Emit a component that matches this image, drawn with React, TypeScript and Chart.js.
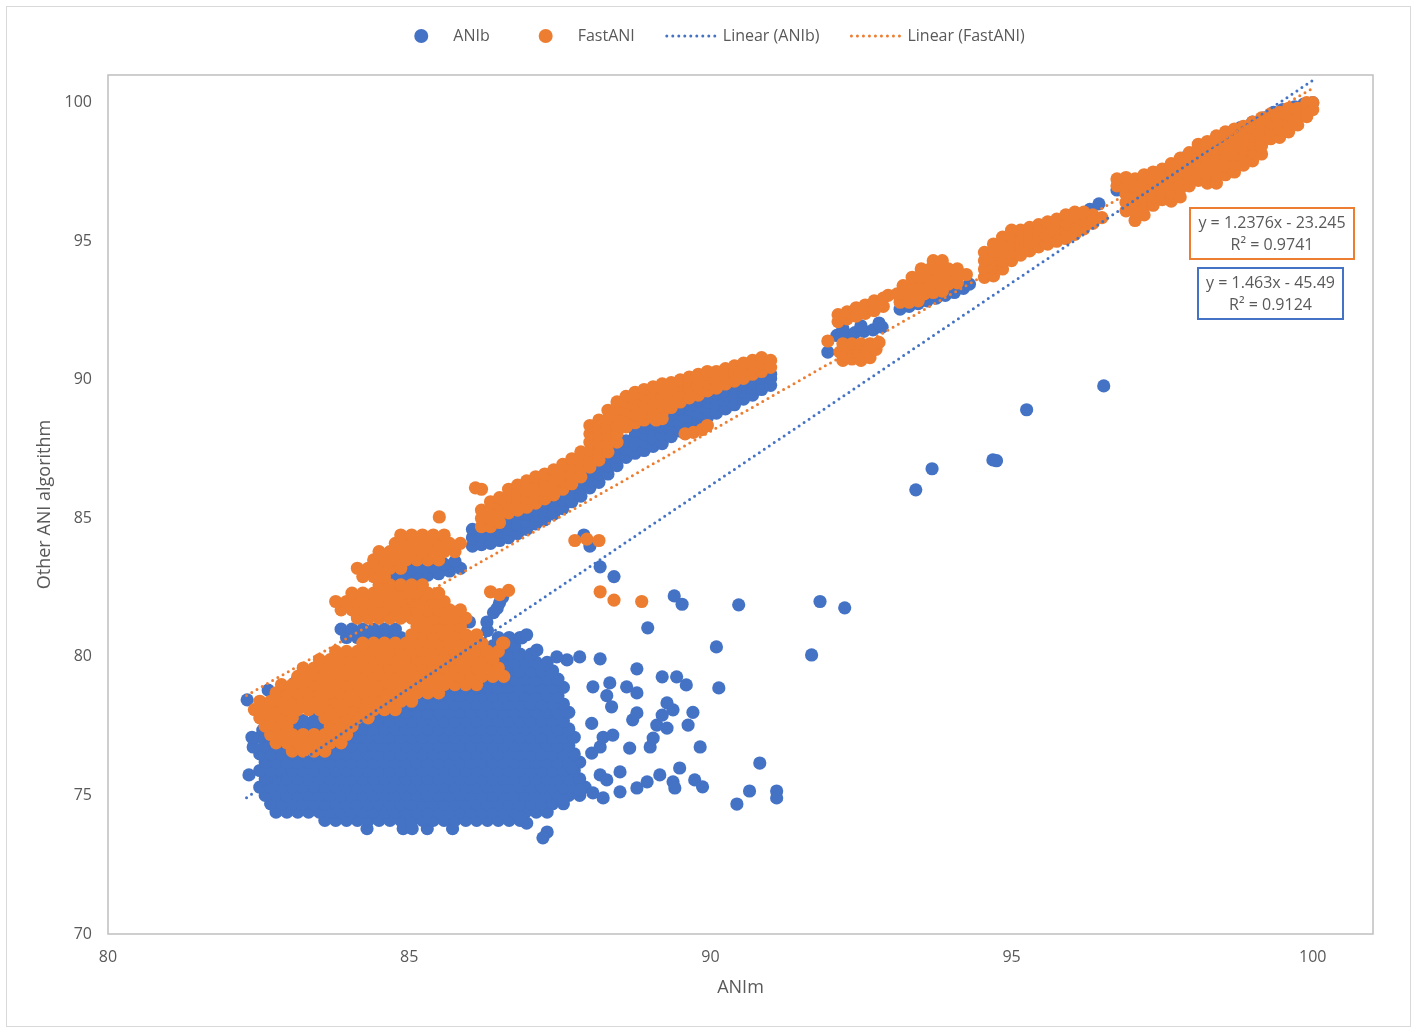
import React, { useEffect, useRef } from "react";
import { Chart, registerables } from "chart.js";

Chart.register(...registerables);
Chart.defaults.font.family = '"Open Sans", sans-serif';

const BLUE = "#4472C4";
const ORANGE = "#ED7D31";
const TEXT = "#595959";

type Row = [number, number[]];
type Pt = [number, number];

// ANIb: dense low cloud, rows of [y, x values]
const ANIB_CLOUD_ROWS: Row[] = [
  [73.8, [84.3, 84.9, 85.05, 85.3, 85.72]],
  [74.1, [83.6, 83.78, 83.96, 84.14, 84.32, 84.5, 84.68, 84.86, 85.04, 85.22, 85.4, 85.58, 85.76, 85.94, 86.12, 86.3, 86.48, 86.66, 86.84]],
  [74.4, [82.79, 82.97, 83.15, 83.33, 83.51, 83.69, 83.87, 84.05, 84.23, 84.41, 84.59, 84.77, 84.95, 85.13, 85.31, 85.49, 85.67, 85.85, 86.03, 86.21, 86.39, 86.57, 86.75, 86.93, 87.11, 87.29]],
  [74.7, [82.7, 82.88, 83.06, 83.24, 83.42, 83.6, 83.78, 83.96, 84.14, 84.32, 84.5, 84.68, 84.86, 85.04, 85.22, 85.4, 85.58, 85.76, 85.94, 86.12, 86.3, 86.48, 86.66, 86.84, 87.02, 87.2, 87.38, 87.56]],
  [75.0, [82.61, 82.79, 82.97, 83.15, 83.33, 83.51, 83.69, 83.87, 84.05, 84.23, 84.41, 84.59, 84.77, 84.95, 85.13, 85.31, 85.49, 85.67, 85.85, 86.03, 86.21, 86.39, 86.57, 86.75, 86.93, 87.11, 87.29, 87.47, 87.65, 87.83]],
  [75.3, [82.52, 82.7, 82.88, 83.06, 83.24, 83.42, 83.6, 83.78, 83.96, 84.14, 84.32, 84.5, 84.68, 84.86, 85.04, 85.22, 85.4, 85.58, 85.76, 85.94, 86.12, 86.3, 86.48, 86.66, 86.84, 87.02, 87.2, 87.38, 87.56, 87.74, 87.92]],
  [75.6, [82.61, 82.79, 82.97, 83.15, 83.33, 83.51, 83.69, 83.87, 84.05, 84.23, 84.41, 84.59, 84.77, 84.95, 85.13, 85.31, 85.49, 85.67, 85.85, 86.03, 86.21, 86.39, 86.57, 86.75, 86.93, 87.11, 87.29, 87.47, 87.65, 87.83]],
  [75.9, [82.52, 82.7, 82.88, 83.06, 83.24, 83.42, 83.6, 83.78, 83.96, 84.14, 84.32, 84.5, 84.68, 84.86, 85.04, 85.22, 85.4, 85.58, 85.76, 85.94, 86.12, 86.3, 86.48, 86.66, 86.84, 87.02, 87.2, 87.38, 87.56, 87.74]],
  [76.2, [82.61, 82.79, 82.97, 83.15, 83.33, 83.51, 83.69, 83.87, 84.05, 84.23, 84.41, 84.59, 84.77, 84.95, 85.13, 85.31, 85.49, 85.67, 85.85, 86.03, 86.21, 86.39, 86.57, 86.75, 86.93, 87.11, 87.29, 87.47, 87.65, 87.83]],
  [76.5, [82.52, 82.7, 82.88, 83.06, 83.24, 83.42, 83.6, 83.78, 83.96, 84.14, 84.32, 84.5, 84.68, 84.86, 85.04, 85.22, 85.4, 85.58, 85.76, 85.94, 86.12, 86.3, 86.48, 86.66, 86.84, 87.02, 87.2, 87.38, 87.56, 87.74]],
  [76.8, [82.61, 82.79, 82.97, 83.15, 83.33, 83.51, 83.69, 83.87, 84.05, 84.23, 84.41, 84.59, 84.77, 84.95, 85.13, 85.31, 85.49, 85.67, 85.85, 86.03, 86.21, 86.39, 86.57, 86.75, 86.93, 87.11, 87.29, 87.47, 87.65]],
  [77.1, [82.52, 82.7, 82.88, 83.06, 83.24, 83.42, 83.6, 83.78, 83.96, 84.14, 84.32, 84.5, 84.68, 84.86, 85.04, 85.22, 85.4, 85.58, 85.76, 85.94, 86.12, 86.3, 86.48, 86.66, 86.84, 87.02, 87.2, 87.38, 87.56, 87.74]],
  [77.4, [82.79, 82.97, 83.15, 83.33, 83.51, 83.69, 83.87, 84.05, 84.23, 84.41, 84.59, 84.77, 84.95, 85.13, 85.31, 85.49, 85.67, 85.85, 86.03, 86.21, 86.39, 86.57, 86.75, 86.93, 87.11, 87.29, 87.47, 87.65]],
  [77.7, [83.06, 83.24, 83.42, 83.6, 83.78, 83.96, 84.14, 84.32, 84.5, 84.68, 84.86, 85.04, 85.22, 85.4, 85.58, 85.76, 85.94, 86.12, 86.3, 86.48, 86.66, 86.84, 87.02, 87.2, 87.38, 87.56]],
  [78.0, [83.51, 83.69, 83.87, 84.05, 84.23, 84.41, 84.59, 84.77, 84.95, 85.13, 85.31, 85.49, 85.67, 85.85, 86.03, 86.21, 86.39, 86.57, 86.75, 86.93, 87.11, 87.29, 87.47, 87.65]],
  [78.3, [84.14, 84.32, 84.5, 84.68, 84.86, 85.04, 85.22, 85.4, 85.58, 85.76, 85.94, 86.12, 86.3, 86.48, 86.66, 86.84, 87.02, 87.2, 87.38, 87.56]],
  [78.6, [84.59, 84.77, 84.95, 85.13, 85.31, 85.49, 85.67, 85.85, 86.03, 86.21, 86.39, 86.57, 86.75, 86.93, 87.11, 87.29, 87.47]],
  [78.9, [85.04, 85.22, 85.4, 85.58, 85.76, 85.94, 86.12, 86.3, 86.48, 86.66, 86.84, 87.02, 87.2, 87.38, 87.56]],
  [79.2, [85.49, 85.67, 85.85, 86.03, 86.21, 86.39, 86.57, 86.75, 86.93, 87.11, 87.29, 87.47]],
  [79.5, [85.94, 86.12, 86.3, 86.48, 86.66, 86.84, 87.02, 87.2, 87.38]],
  [79.8, [86.21, 86.39, 86.57, 86.75, 86.93, 87.11, 87.29]],
  [80.1, [86.3, 86.48, 86.66, 86.84, 87.02]],
  [80.4, [86.39, 86.57, 86.75]],
  [80.7, [83.96, 84.14, 84.32, 84.5, 84.68, 84.86, 86.48, 86.66, 86.84]],
  [81.0, [83.87, 84.05, 84.23, 84.41, 84.59, 84.77]],
];

// ANIb: middle band, columns of [x, y values]
const ANIB_BAND_COLS: Row[] = [
  [86.05, [84.0, 84.3, 84.6]],
  [86.2, [84.05, 84.35]],
  [86.35, [84.1, 84.4]],
  [86.5, [84.2, 84.5]],
  [86.65, [84.3, 84.6, 84.85]],
  [86.8, [84.45, 84.75, 85.0]],
  [86.95, [84.6, 84.9, 85.15]],
  [87.1, [84.8, 85.1, 85.3]],
  [87.25, [84.95, 85.25, 85.45]],
  [87.4, [85.15, 85.45, 85.65]],
  [87.55, [85.35, 85.65, 85.85]],
  [87.7, [85.6, 85.9, 86.05]],
  [87.85, [85.8, 86.1, 86.3]],
  [88.0, [86.1, 86.4, 86.7]],
  [88.15, [86.3, 86.6, 86.9]],
  [88.3, [86.6, 86.9, 87.2]],
  [88.45, [86.9, 87.2, 87.5]],
  [88.6, [87.2, 87.5, 87.8]],
  [88.75, [87.35, 87.65, 87.95, 88.15]],
  [88.9, [87.45, 87.75, 88.05, 88.3]],
  [89.05, [87.6, 87.9, 88.2, 88.4]],
  [89.2, [87.7, 88.0, 88.3, 88.55]],
  [89.35, [87.95, 88.25, 88.55, 88.75]],
  [89.5, [88.15, 88.45, 88.75, 88.95]],
  [89.65, [88.35, 88.65, 88.95, 89.1]],
  [89.8, [88.5, 88.8, 89.05, 89.25]],
  [89.95, [88.65, 88.95, 89.2, 89.4]],
  [90.1, [88.8, 89.1, 89.3, 89.5]],
  [90.25, [88.95, 89.25, 89.45, 89.6]],
  [90.4, [89.1, 89.4, 89.6, 89.75]],
  [90.55, [89.3, 89.55, 89.75, 89.85]],
  [90.7, [89.45, 89.7, 89.9]],
  [90.85, [89.65, 89.9, 90.05]],
  [91.0, [89.8, 90.05, 90.2]],
];

// ANIb: upper bands near the diagonal
const ANIB_UPPER: Pt[] = [
  [91.95, 91.0], [92.1, 91.6], [92.25, 91.65], [92.4, 91.7], [92.55, 91.75], [92.7, 91.8], [92.85, 91.9],
  [92.2, 91.85], [92.5, 91.95], [92.8, 92.05],
  [93.15, 92.55], [93.3, 92.65], [93.45, 92.75], [93.6, 92.85], [93.75, 92.95], [93.9, 93.05], [94.05, 93.15],
  [94.2, 93.3], [94.3, 93.45],
  [94.7, 94.2], [94.9, 94.45], [95.1, 94.7], [95.3, 94.9], [95.5, 95.15], [95.7, 95.4], [95.9, 95.65],
  [96.1, 95.9], [96.3, 96.15], [96.45, 96.35],
  [96.75, 96.85], [96.9, 96.95], [97.1, 97.1], [97.3, 97.3], [97.5, 97.5], [97.7, 97.75], [97.85, 98.0],
  [98.0, 98.15], [98.2, 98.4], [98.4, 98.7], [98.6, 98.9], [98.8, 99.1], [99.0, 99.3], [99.2, 99.45],
  [99.35, 99.65], [99.5, 99.75], [99.7, 99.85], [99.85, 99.95], [100.0, 100.0],
];

// ANIb: loose points
const ANIB_SCATTER: Pt[] = [
  [82.31, 78.45], [82.66, 78.8], [83.1, 79.06], [82.34, 75.74], [82.41, 76.75], [82.39, 77.1], [82.57, 77.36],
  [87.29, 73.68], [87.22, 73.47], [86.95, 74.0], [86.84, 74.22],
  [87.55, 74.84], [87.83, 75.2], [88.05, 75.09], [88.22, 74.91], [88.5, 75.13], [88.17, 75.74], [88.28, 75.56],
  [87.7, 75.99], [88.5, 75.85], [88.03, 76.53], [88.17, 76.75], [88.66, 76.71], [89.0, 76.75], [89.83, 76.75],
  [88.22, 77.1], [88.38, 77.18], [89.05, 77.07], [88.03, 77.6], [88.71, 77.73], [88.78, 77.98], [89.11, 77.54],
  [89.28, 77.43], [89.63, 77.54], [89.2, 77.9], [89.71, 78.0], [89.38, 78.09], [89.28, 78.34], [88.36, 78.2],
  [88.28, 78.6], [88.78, 78.7], [88.61, 78.92], [88.05, 78.92], [88.33, 79.06], [89.6, 78.99], [90.14, 78.88],
  [89.2, 79.28], [89.44, 79.28], [88.78, 79.57], [88.17, 79.93], [87.62, 79.89], [87.45, 80.0], [87.83, 80.0],
  [87.12, 80.25], [86.87, 80.69], [86.95, 80.8], [90.1, 80.36], [88.96, 81.05], [91.68, 80.07],
  [88.78, 75.27], [88.95, 75.49], [89.16, 75.74], [89.38, 75.49], [89.41, 75.27], [89.74, 75.56], [89.87, 75.31],
  [89.49, 75.99], [90.82, 76.17], [90.65, 75.16], [90.44, 74.69], [91.1, 75.16], [91.1, 74.91],
  [89.4, 82.2], [89.53, 81.9], [90.47, 81.88], [91.82, 82.0], [92.23, 81.77],
  [88.17, 83.25], [88.4, 82.9], [87.9, 84.4], [88.0, 84.0],
  [86.0, 81.26], [86.3, 80.95], [86.29, 81.26], [86.4, 81.6], [86.46, 81.75], [86.5, 81.95], [86.55, 82.15],
  [84.77, 82.85], [84.95, 82.85], [85.13, 82.9], [85.31, 82.95], [85.49, 83.0], [85.67, 83.1], [85.85, 83.2],
  [85.04, 83.15], [85.22, 83.2], [85.4, 83.25], [85.58, 83.35], [85.76, 83.45],
  [93.41, 86.03], [93.68, 86.79], [94.69, 87.11], [94.75, 87.08], [95.25, 88.92], [96.53, 89.78],
];

// FastANI: lower bands, rows of [y, x values]
const FASTANI_LOW_ROWS: Row[] = [
  [76.6, [83.06, 83.24, 83.42, 83.6]],
  [76.9, [82.79, 82.97, 83.15, 83.33, 83.51, 83.69, 83.87]],
  [77.2, [82.7, 82.88, 83.06, 83.24, 83.42, 83.6, 83.78, 83.96]],
  [77.5, [82.61, 82.79, 82.97, 83.69, 83.87, 84.05]],
  [77.8, [82.52, 82.7, 82.88, 83.06, 83.6, 83.78, 83.96, 84.14, 84.32]],
  [78.1, [82.43, 82.61, 82.79, 82.97, 83.15, 83.33, 83.51, 83.69, 83.87, 84.05, 84.23, 84.41, 84.59, 84.77]],
  [78.4, [82.52, 82.7, 82.88, 83.06, 83.24, 83.42, 83.6, 83.78, 83.96, 84.14, 84.32, 84.5, 84.68, 84.86, 85.04]],
  [78.7, [82.79, 82.97, 83.15, 83.33, 83.51, 83.69, 83.87, 84.05, 84.23, 84.41, 84.59, 84.77, 84.95, 85.13, 85.31, 85.49]],
  [79.0, [82.88, 83.06, 83.24, 83.42, 83.6, 83.78, 83.96, 84.14, 84.32, 84.5, 84.68, 84.86, 85.04, 85.22, 85.4, 85.58, 85.76, 85.94, 86.12]],
  [79.3, [83.15, 83.33, 83.51, 83.69, 83.87, 84.05, 84.23, 84.41, 84.59, 84.77, 84.95, 85.13, 85.31, 85.49, 85.67, 85.85, 86.03, 86.21, 86.39, 86.57]],
  [79.6, [83.24, 83.42, 83.6, 83.78, 83.96, 84.14, 84.32, 84.5, 84.68, 84.86, 85.04, 85.22, 85.4, 85.58, 85.76, 85.94, 86.12, 86.3, 86.48]],
  [79.9, [83.51, 83.69, 83.87, 84.05, 84.23, 84.41, 84.59, 84.77, 84.95, 85.13, 85.31, 85.49, 85.67, 85.85, 86.03, 86.21, 86.39]],
  [80.2, [83.78, 83.96, 84.14, 84.32, 84.5, 84.68, 84.86, 85.04, 85.22, 85.4, 85.58, 85.76, 85.94, 86.12, 86.3, 86.48]],
  [80.5, [84.23, 84.41, 84.59, 84.77, 84.95, 85.13, 85.31, 85.49, 85.67, 85.85, 86.03, 86.21, 86.57]],
  [80.8, [85.04, 85.22, 85.4, 85.58, 85.76, 85.94, 86.12]],
  [81.1, [85.13, 85.31, 85.49, 85.67, 85.85]],
  [81.4, [84.14, 84.32, 84.5, 84.68, 84.86, 85.04, 85.22, 85.4, 85.58, 85.76, 85.94]],
  [81.7, [83.87, 84.05, 84.23, 84.41, 84.59, 84.77, 84.95, 85.13, 85.31, 85.49, 85.67, 85.85]],
  [82.0, [83.78, 83.96, 84.14, 84.32, 84.5, 84.68, 84.86, 85.04, 85.22, 85.4, 85.58]],
  [82.3, [84.05, 84.23, 84.41, 84.59, 84.77, 84.95, 85.13, 85.31, 85.49]],
  [82.6, [84.5, 84.68, 84.86, 85.04, 85.22]],
  [82.9, [84.23, 84.41, 84.59]],
  [83.2, [84.14, 84.32, 84.5, 84.68, 84.86]],
  [83.5, [84.41, 84.59, 84.77, 84.95, 85.13, 85.31, 85.49]],
  [83.8, [84.5, 84.68, 84.86, 85.04, 85.22, 85.4, 85.58, 85.76]],
  [84.1, [84.77, 84.95, 85.13, 85.31, 85.49, 85.67, 85.85]],
  [84.4, [84.86, 85.04, 85.22, 85.4, 85.58]],
];

// FastANI: middle band, columns of [x, y values]
const FASTANI_BAND_COLS: Row[] = [
  [86.2, [84.7, 85.0, 85.3]],
  [86.35, [84.7, 85.0, 85.3, 85.6]],
  [86.5, [84.85, 85.15, 85.45, 85.75]],
  [86.65, [85.2, 85.5, 85.8, 86.05]],
  [86.8, [85.3, 85.6, 85.9, 86.2]],
  [86.95, [85.4, 85.7, 86.0, 86.35]],
  [87.1, [85.55, 85.85, 86.15, 86.5]],
  [87.25, [85.7, 86.0, 86.3, 86.6]],
  [87.4, [85.85, 86.15, 86.45, 86.75]],
  [87.55, [86.05, 86.35, 86.65, 86.95]],
  [87.7, [86.25, 86.55, 86.85, 87.15]],
  [87.85, [86.5, 86.8, 87.1, 87.4]],
  [88.0, [86.85, 87.15, 87.45, 87.75, 88.05, 88.35]],
  [88.15, [87.1, 87.4, 87.7, 88.0, 88.3, 88.55]],
  [88.3, [87.4, 87.7, 88.0, 88.3, 88.6, 88.9]],
  [88.45, [87.75, 88.05, 88.35, 88.65, 88.95, 89.2]],
  [88.6, [88.3, 88.6, 88.9, 89.2, 89.4]],
  [88.75, [88.45, 88.75, 89.05, 89.35, 89.55]],
  [88.9, [88.55, 88.85, 89.15, 89.45, 89.65]],
  [89.05, [88.65, 88.95, 89.25, 89.55, 89.75]],
  [89.2, [88.8, 89.1, 89.4, 89.7, 89.85]],
  [89.35, [89.0, 89.3, 89.6, 89.9]],
  [89.5, [89.2, 89.5, 89.8, 90.0]],
  [89.65, [89.35, 89.65, 89.95, 90.1]],
  [89.8, [89.45, 89.75, 90.05, 90.2]],
  [89.95, [89.6, 89.9, 90.2, 90.3]],
  [90.1, [89.7, 90.0, 90.3]],
  [90.25, [89.85, 90.15, 90.4]],
  [90.4, [89.95, 90.25, 90.5]],
  [90.55, [90.05, 90.35, 90.6]],
  [90.7, [90.2, 90.5, 90.7]],
  [90.85, [90.3, 90.6, 90.8]],
  [91.0, [90.45, 90.7]],
];

// FastANI: upper clusters
const FASTANI_UPPER: Pt[] = [
  [91.95, 91.4],
  [92.2, 90.7], [92.35, 90.75], [92.5, 90.7], [92.65, 90.8],
  [92.15, 91.0], [92.3, 91.0], [92.45, 91.05], [92.6, 91.0], [92.75, 91.1],
  [92.2, 91.3], [92.35, 91.3], [92.5, 91.3], [92.65, 91.3], [92.8, 91.35],
  [92.12, 92.1], [92.12, 92.35], [92.27, 92.2], [92.27, 92.45], [92.42, 92.3], [92.42, 92.6],
  [92.57, 92.4], [92.57, 92.7], [92.72, 92.5], [92.72, 92.85], [92.87, 92.65], [92.87, 92.95], [92.95, 93.05],
  [93.15, 92.8], [93.3, 92.8], [93.45, 92.85],
  [93.1, 93.1], [93.25, 93.1], [93.4, 93.1], [93.55, 93.1], [93.7, 93.15], [93.85, 93.2],
  [93.2, 93.4], [93.35, 93.4], [93.5, 93.4], [93.65, 93.4], [93.8, 93.4], [93.95, 93.45], [94.1, 93.5],
  [93.35, 93.7], [93.5, 93.7], [93.65, 93.7], [93.8, 93.7], [93.95, 93.7], [94.1, 93.75], [94.25, 93.8],
  [93.5, 94.0], [93.65, 94.0], [93.8, 94.0], [93.95, 94.0], [94.1, 94.0],
  [93.7, 94.3], [93.85, 94.3],
];

const FASTANI_TOP_COLS: Row[] = [
  [94.55, [93.7, 94.0, 94.3, 94.6]],
  [94.7, [93.75, 94.05, 94.35, 94.65, 94.9]],
  [94.85, [94.0, 94.3, 94.6, 94.9, 95.15]],
  [95.0, [94.3, 94.6, 94.9, 95.2, 95.4]],
  [95.15, [94.5, 94.8, 95.1, 95.4]],
  [95.3, [94.65, 94.95, 95.25, 95.5]],
  [95.45, [94.8, 95.1, 95.4, 95.6]],
  [95.6, [94.9, 95.2, 95.5, 95.7]],
  [95.75, [95.0, 95.3, 95.6, 95.8]],
  [95.9, [95.1, 95.4, 95.7, 95.95]],
  [96.05, [95.25, 95.55, 95.85, 96.05]],
  [96.2, [95.45, 95.75, 96.05]],
  [96.35, [95.65, 95.95]],
  [96.5, [95.85]],
  [96.75, [97.0, 97.25]],
  [96.9, [96.1, 96.4, 96.7, 97.0, 97.3]],
  [97.05, [95.75, 96.05, 96.35, 96.65, 96.95, 97.25]],
  [97.2, [95.95, 96.25, 96.55, 96.85, 97.15, 97.4]],
  [97.35, [96.3, 96.6, 96.9, 97.2, 97.5]],
  [97.5, [96.5, 96.8, 97.1, 97.4, 97.6]],
  [97.65, [96.45, 96.75, 97.05, 97.35, 97.65, 97.8]],
  [97.8, [96.6, 96.9, 97.2, 97.5, 97.8, 98.0]],
  [97.95, [97.0, 97.3, 97.6, 97.9, 98.2]],
  [98.1, [97.2, 97.5, 97.8, 98.1, 98.4, 98.5]],
  [98.25, [97.1, 97.4, 97.7, 98.0, 98.3, 98.6]],
  [98.4, [97.1, 97.4, 97.7, 98.0, 98.3, 98.55, 98.8]],
  [98.55, [97.4, 97.7, 98.0, 98.3, 98.6, 98.95]],
  [98.7, [97.5, 97.8, 98.1, 98.4, 98.7, 99.05]],
  [98.85, [97.75, 98.05, 98.35, 98.65, 98.95, 99.15]],
  [99.0, [97.9, 98.2, 98.5, 98.8, 99.1, 99.3]],
  [99.15, [98.15, 98.45, 98.75, 99.05, 99.3, 99.45]],
  [99.3, [98.7, 99.0, 99.3, 99.6]],
  [99.45, [98.75, 99.05, 99.35, 99.65]],
  [99.6, [98.95, 99.25, 99.55, 99.8]],
  [99.75, [99.2, 99.5, 99.8]],
  [99.9, [99.5, 99.8, 100.0]],
  [100.0, [99.75, 100.0]],
];

// FastANI: loose points
const FASTANI_SCATTER: Pt[] = [
  [85.5, 85.05], [86.1, 86.1], [86.2, 86.05],
  [86.35, 82.35], [86.5, 82.25], [86.65, 82.4], [86.55, 80.5],
  [87.75, 84.2], [87.95, 84.25], [88.15, 84.2],
  [88.17, 82.35], [88.4, 82.05], [88.86, 82.0],
  [89.58, 88.05], [89.72, 88.1], [89.86, 88.2], [89.95, 88.35], [89.1, 88.55], [89.2, 88.6],
];

// trendlines (end points of the fitted lines)
const ANIB_TREND: Pt[] = [[82.3, 74.92], [100, 100.81]];
const FASTANI_TREND: Pt[] = [[82.3, 78.61], [100, 100.52]];

const FASTANI_EQ = ["y = 1.2376x - 23.245", "R\u00b2 = 0.9741"];
const ANIB_EQ = ["y = 1.463x - 45.49", "R\u00b2 = 0.9124"];

const fromRows = (rows: Row[]) => rows.flatMap(([y, xs]) => xs.map((x) => ({ x, y })));
const fromCols = (cols: Row[]) => cols.flatMap(([x, ys]) => ys.map((y) => ({ x, y })));
const fromPts = (pts: Pt[]) => pts.map(([x, y]) => ({ x, y }));

const framePlugin = {
  id: "frame",
  beforeDraw(chart: any) {
    const { ctx, width, height } = chart;
    ctx.save();
    ctx.fillStyle = "#ffffff";
    ctx.fillRect(0, 0, width, height);
    ctx.strokeStyle = "#d9d9d9";
    ctx.lineWidth = 1;
    ctx.strokeRect(6.5, 6.5, width - 13, height - 13);
    ctx.restore();
  },
  beforeDatasetsDraw(chart: any) {
    const { ctx, chartArea: a } = chart;
    ctx.save();
    ctx.strokeStyle = "#bfbfbf";
    ctx.lineWidth = 1.5;
    ctx.strokeRect(a.left, a.top, a.right - a.left, a.bottom - a.top);
    ctx.restore();
  },
};

const equationPlugin = {
  id: "equations",
  afterDatasetsDraw(chart: any) {
    const { ctx, chartArea: a } = chart;
    const boxes = [
      { lines: FASTANI_EQ, color: ORANGE, left: a.right - 183, top: a.top + 133, w: 164 },
      { lines: ANIB_EQ, color: BLUE, left: a.right - 175, top: a.top + 193, w: 145 },
    ];
    ctx.save();
    boxes.forEach((b) => {
      ctx.fillStyle = "#ffffff";
      ctx.fillRect(b.left, b.top, b.w, 51);
      ctx.strokeStyle = b.color;
      ctx.lineWidth = 2;
      ctx.strokeRect(b.left, b.top, b.w, 51);
      ctx.fillStyle = TEXT;
      ctx.font = '16px "Open Sans"';
      ctx.textAlign = "center";
      ctx.textBaseline = "middle";
      ctx.fillText(b.lines[0], b.left + b.w / 2, b.top + 15);
      ctx.fillText(b.lines[1], b.left + b.w / 2, b.top + 37);
    });
    ctx.restore();
  },
};

const legendPlugin = {
  id: "customLegend",
  afterDraw(chart: any) {
    const { ctx } = chart;
    const symbol = 54;
    const gap = 5;
    const spacing = 29;
    ctx.save();
    ctx.font = '16px "Open Sans"';
    const items = chart.data.datasets.map((ds: any) => ({
      label: ds.label,
      color: ds.borderColor,
      line: !!ds.showLine,
    }));
    const widths = items.map((it: any) => symbol + gap + ctx.measureText(it.label).width);
    const total = widths.reduce((s: number, w: number) => s + w, 0) + spacing * (items.length - 1);
    let x = chart.width / 2 + 1 - total / 2;
    const y = 36;
    items.forEach((it: any, i: number) => {
      if (it.line) {
        ctx.strokeStyle = it.color;
        ctx.lineWidth = 3;
        ctx.lineCap = "round";
        ctx.setLineDash([0, 6]);
        ctx.beginPath();
        ctx.moveTo(x + 3, y);
        ctx.lineTo(x + symbol - 2, y);
        ctx.stroke();
        ctx.setLineDash([]);
      } else {
        ctx.fillStyle = it.color;
        ctx.beginPath();
        ctx.arc(x + symbol / 2, y, 7, 0, Math.PI * 2);
        ctx.fill();
      }
      ctx.fillStyle = TEXT;
      ctx.textAlign = "left";
      ctx.textBaseline = "middle";
      ctx.fillText(it.label, x + symbol + gap, y);
      x += widths[i] + spacing;
    });
    ctx.restore();
  },
};

const tickLabel = (v: any) => (Number(v) % 5 === 0 ? String(v) : "");

const App: React.FC = () => {
  const canvasRef = useRef<HTMLCanvasElement>(null);

  useEffect(() => {
    if (!canvasRef.current) return;
    const anib = [
      ...fromRows(ANIB_CLOUD_ROWS),
      ...fromCols(ANIB_BAND_COLS),
      ...fromPts(ANIB_UPPER),
      ...fromPts(ANIB_SCATTER),
    ];
    const fastani = [
      ...fromRows(FASTANI_LOW_ROWS),
      ...fromCols(FASTANI_BAND_COLS),
      ...fromPts(FASTANI_UPPER),
      ...fromCols(FASTANI_TOP_COLS),
      ...fromPts(FASTANI_SCATTER),
    ];

    const chart = new Chart(canvasRef.current, {
      type: "scatter",
      data: {
        datasets: [
          {
            label: "ANIb",
            data: anib,
            backgroundColor: BLUE,
            borderColor: BLUE,
            pointRadius: 6.6,
            pointHoverRadius: 6.6,
            pointBorderWidth: 0,
            order: 4,
          },
          {
            label: "FastANI",
            data: fastani,
            backgroundColor: ORANGE,
            borderColor: ORANGE,
            pointRadius: 6.6,
            pointHoverRadius: 6.6,
            pointBorderWidth: 0,
            order: 3,
          },
          {
            label: "Linear (ANIb)",
            data: fromPts(ANIB_TREND),
            showLine: true,
            borderColor: BLUE,
            backgroundColor: BLUE,
            borderWidth: 3,
            borderDash: [0, 6],
            borderCapStyle: "round",
            pointRadius: 0,
            order: 2,
          },
          {
            label: "Linear (FastANI)",
            data: fromPts(FASTANI_TREND),
            showLine: true,
            borderColor: ORANGE,
            backgroundColor: ORANGE,
            borderWidth: 3,
            borderDash: [0, 6],
            borderCapStyle: "round",
            pointRadius: 0,
            order: 1,
          },
        ],
      } as any,
      options: {
        animation: false,
        responsive: true,
        maintainAspectRatio: false,
        events: [],
        layout: { padding: { left: 0, top: 75, right: 44, bottom: 0 } },
        plugins: {
          legend: { display: false },
          tooltip: { enabled: false },
        },
        scales: {
          x: {
            type: "linear",
            min: 80,
            max: 101,
            grid: { display: false, drawTicks: false },
            border: { display: false },
            ticks: {
              stepSize: 5,
              padding: 14,
              color: TEXT,
              font: { size: 16 },
              maxRotation: 0,
              autoSkip: false,
              callback: tickLabel,
            },
            title: {
              display: true,
              text: "ANIm",
              color: TEXT,
              font: { size: 18 },
              padding: { top: 0, bottom: 34 },
            },
            afterFit: (s: any) => {
              s.height = 99;
            },
          },
          y: {
            type: "linear",
            min: 70,
            max: 101,
            grid: { display: false, drawTicks: false },
            border: { display: false },
            ticks: {
              stepSize: 5,
              padding: 16,
              color: TEXT,
              font: { size: 16 },
              autoSkip: false,
              callback: tickLabel,
            },
            title: {
              display: true,
              text: "Other ANI algorithm",
              color: TEXT,
              font: { size: 18 },
              padding: { top: 34, bottom: 0 },
            },
            afterFit: (s: any) => {
              s.width = 108;
            },
          },
        },
      } as any,
      plugins: [framePlugin, equationPlugin, legendPlugin],
    });

    return () => {
      chart.destroy();
    };
  }, []);

  return (
    <div style={{ position: "fixed", left: 0, top: 0, width: 1417, height: 1033, background: "#fff" }}>
      <canvas ref={canvasRef} />
    </div>
  );
};

export default App;
